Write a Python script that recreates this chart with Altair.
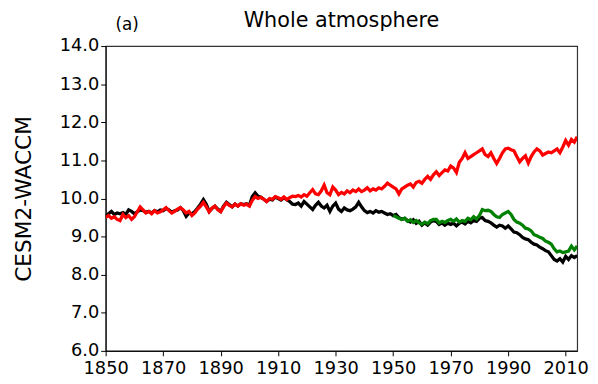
import altair as alt
import pandas as pd

years = list(range(1850, 2015))

red_vals = [
    9.50, 9.55, 9.48, 9.52, 9.45, 9.42, 9.58, 9.50, 9.55, 9.45,
    9.52, 9.65, 9.78, 9.70, 9.62, 9.66, 9.60, 9.68, 9.62, 9.65,
    9.70, 9.76, 9.68, 9.62, 9.66, 9.72, 9.76, 9.70, 9.62, 9.66,
    9.55, 9.62, 9.72, 9.80, 9.90, 9.78, 9.65, 9.75, 9.80, 9.70,
    9.65, 9.78, 9.88, 9.82, 9.78, 9.85, 9.80, 9.86, 9.82, 9.85,
    9.80, 9.95, 10.05, 10.00, 10.03, 9.98, 9.92, 10.00, 9.98, 10.05,
    10.02, 9.98, 10.04, 9.97, 10.02, 10.06, 10.05, 10.08, 10.04, 10.10,
    10.06, 10.15, 10.23, 10.12, 10.10, 10.20, 10.35, 10.15, 10.10, 10.30,
    10.22, 10.10, 10.16, 10.12, 10.20, 10.15, 10.22, 10.18, 10.25, 10.18,
    10.22, 10.28, 10.20, 10.25, 10.22, 10.28, 10.25, 10.32, 10.40, 10.35,
    10.30, 10.25, 10.12, 10.25, 10.30, 10.35, 10.38, 10.30, 10.42, 10.45,
    10.40, 10.50, 10.58, 10.50, 10.62, 10.70, 10.60, 10.68, 10.75, 10.72,
    10.85, 10.80, 10.68, 10.95, 11.05, 11.20, 11.05, 11.10, 11.15, 11.20,
    11.25, 11.30, 11.15, 11.10, 11.20, 11.05, 10.92, 11.05, 11.20, 11.30,
    11.32, 11.28, 11.25, 11.10, 10.96, 11.05, 11.12, 10.93, 11.10, 11.22,
    11.30, 11.25, 11.14, 11.18, 11.22, 11.20, 11.25, 11.30, 11.20, 11.35,
    11.52, 11.40, 11.55, 11.48, 11.62,
]

black_vals = [
    9.52, 9.60, 9.66, 9.58, 9.62, 9.60, 9.63, 9.58, 9.70, 9.66,
    9.60, 9.65, 9.70, 9.68, 9.64, 9.66, 9.62, 9.68, 9.65, 9.70,
    9.68, 9.74, 9.70, 9.64, 9.68, 9.70, 9.76, 9.68, 9.53, 9.62,
    9.60, 9.66, 9.75, 9.85, 9.97, 9.85, 9.66, 9.74, 9.80, 9.72,
    9.66, 9.80, 9.90, 9.84, 9.78, 9.85, 9.80, 9.86, 9.84, 9.86,
    9.82, 10.05, 10.15, 10.06, 10.03, 9.98, 9.92, 9.98, 9.96, 10.04,
    10.00, 9.96, 10.02, 9.97, 9.92, 9.85, 9.84, 9.88, 9.80, 9.92,
    9.85, 9.78, 9.71, 9.82, 9.90, 9.80, 9.75, 9.82, 9.66, 9.80,
    9.88, 9.72, 9.66, 9.75, 9.70, 9.68, 9.72, 9.78, 9.90, 9.78,
    9.68, 9.63, 9.66, 9.62, 9.68, 9.64, 9.66, 9.62, 9.58, 9.60,
    9.55, 9.58, 9.50, 9.45, 9.48, 9.42, 9.38, 9.44, 9.35, 9.40,
    9.30, 9.36, 9.30, 9.38, 9.42, 9.40, 9.32, 9.36, 9.30, 9.35,
    9.32, 9.35, 9.28, 9.35, 9.38, 9.33, 9.40, 9.36, 9.42, 9.40,
    9.48, 9.50, 9.42, 9.40, 9.36, 9.30, 9.25, 9.30, 9.28, 9.22,
    9.28, 9.20, 9.12, 9.10, 9.05, 8.98, 8.94, 8.92, 8.85, 8.80,
    8.78, 8.72, 8.68, 8.63, 8.60, 8.50, 8.40, 8.36, 8.42, 8.33,
    8.48, 8.40, 8.50, 8.45, 8.50,
]

green_years = list(range(1950, 2015))
green_vals = [
    9.55, 9.52, 9.48, 9.45, 9.48, 9.40, 9.44, 9.37, 9.42, 9.36,
    9.32, 9.38, 9.34, 9.42, 9.45, 9.45, 9.36, 9.40, 9.37, 9.42,
    9.45, 9.40, 9.46, 9.38, 9.42, 9.40, 9.48, 9.44, 9.52, 9.46,
    9.55, 9.71, 9.68, 9.69, 9.66, 9.58, 9.52, 9.50, 9.58, 9.62,
    9.66, 9.58, 9.45, 9.38, 9.35, 9.30, 9.22, 9.20, 9.15, 9.05,
    9.02, 8.98, 8.95, 8.88, 8.85, 8.80, 8.68, 8.60, 8.62, 8.58,
    8.60, 8.62, 8.75, 8.65, 8.75,
]

x_ticks = [1850, 1870, 1890, 1910, 1930, 1950, 1970, 1990, 2010]
y_ticks = [6.0, 7.0, 8.0, 9.0, 10.0, 11.0, 12.0, 13.0, 14.0]

df = pd.concat([
    pd.DataFrame({"year": years, "value": black_vals, "series": "black"}),
    pd.DataFrame({"year": years, "value": red_vals, "series": "red"}),
    pd.DataFrame({"year": green_years, "value": green_vals, "series": "green"}),
], ignore_index=True)

FONT = "DejaVu Sans"
W, H = 478, 309

lines = alt.Chart(df).mark_line(strokeWidth=3.3, clip=True).encode(
    x=alt.X("year:Q",
            scale=alt.Scale(domain=[1850, 2014], nice=False, zero=False),
            axis=alt.Axis(values=x_ticks, format="d", title=None, grid=False,
                          labelFontSize=18, labelColor="black", labelFont=FONT,
                          tickColor="black", domainColor="black", tickSize=5,
                          labelPadding=4, labelFlush=False, labelOverlap=False)),
    y=alt.Y("value:Q",
            scale=alt.Scale(domain=[6, 14], nice=False, zero=False),
            axis=alt.Axis(values=y_ticks, format=".1f", title="CESM2-WACCM", grid=False,
                          labelFontSize=18, labelColor="black", labelFont=FONT,
                          titleFont=FONT, titleFontSize=22, titleFontWeight="normal",
                          titleColor="black", titlePadding=24,
                          tickColor="black", domainColor="black", tickSize=5,
                          labelPadding=2, labelOverlap=False)),
    color=alt.Color("series:N",
                    scale=alt.Scale(domain=["black", "red", "green"],
                                    range=["#000000", "#ff0000", "#008000"]),
                    legend=None),
    detail="series:N",
)

label_a = alt.Chart(pd.DataFrame({"t": ["(a)"]})).mark_text(
    font=FONT, fontSize=17, color="black", align="left", baseline="alphabetic"
).encode(x=alt.value(10), y=alt.value(-16), text="t:N")

title_txt = alt.Chart(pd.DataFrame({"t": ["Whole atmosphere"]})).mark_text(
    font=FONT, fontSize=21, color="black", align="center", baseline="alphabetic"
).encode(x=alt.value(W / 2), y=alt.value(-19), text="t:N")

chart = alt.layer(lines, label_a, title_txt).properties(
    width=W, height=H,
    autosize=alt.AutoSizeParams(type="none"),
    padding={"left": 99, "top": 36, "right": 13, "bottom": 31},
).configure_view(stroke="#333333", strokeWidth=1.2)

chart.save("out.html", embed_options={"renderer": "svg", "actions": False})
